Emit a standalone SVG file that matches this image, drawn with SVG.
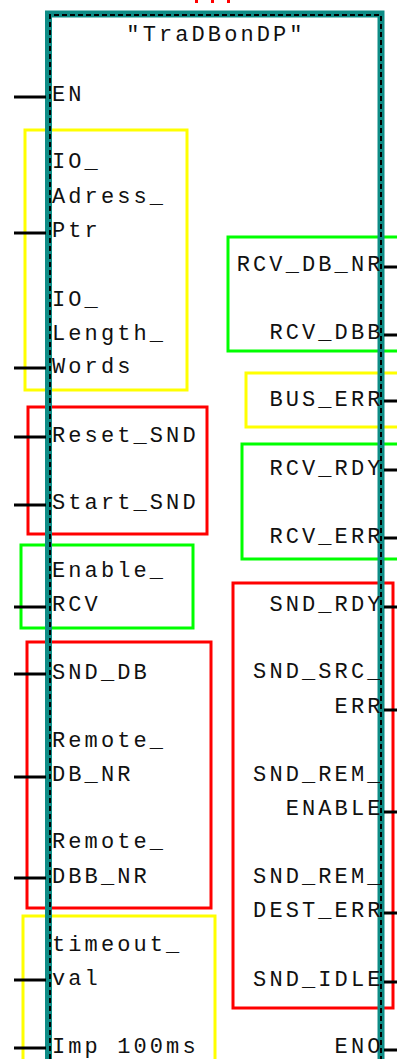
<svg xmlns="http://www.w3.org/2000/svg" width="397" height="1059" viewBox="0 0 397 1059">
  <defs>
    <style>
      .lbl { font-family: "Liberation Mono", "Courier New", monospace; font-size: 22px; letter-spacing: 3.1px; fill: #111; }
      .in { text-anchor: start; }
      .out { text-anchor: end; }
      .pin { stroke: #000; stroke-width: 3; fill: none; }
      .frame { stroke: #0e8c86; stroke-width: 7; fill: none; }
      .dash { stroke: #000; stroke-width: 2; stroke-dasharray: 5 3; fill: none; }
      .hl { fill: none; stroke-width: 3; }
      .yel { stroke: #ffff00; }
      .grn { stroke: #00ff00; }
      .red { stroke: #ff0000; }
    </style>
  </defs>

  <rect width="397" height="1059" fill="#ffffff"/>

  <!-- fragment of a red dashed edge at the very top -->
  <line x1="195" y1="1.5" x2="234" y2="1.5" stroke="#ff0000" stroke-width="3" stroke-dasharray="3 13"/>

  <!-- coloured grouping boxes -->
  <g id="groups">
    <rect class="hl yel" x="25" y="130" width="162" height="260"/>
    <rect class="hl red" x="28" y="407" width="179" height="127"/>
    <rect class="hl grn" x="21" y="545" width="172" height="83"/>
    <rect class="hl red" x="27" y="642" width="184" height="266"/>
    <rect class="hl yel" x="23" y="916" width="192" height="160"/>
    <rect class="hl grn" x="228" y="237" width="180" height="114"/>
    <rect class="hl yel" x="246" y="373" width="160" height="54"/>
    <rect class="hl grn" x="242" y="444" width="166" height="115"/>
    <rect class="hl red" x="233" y="583" width="160" height="425"/>
  </g>

  <!-- function block frame -->
  <g id="block">
    <rect class="frame" x="48.5" y="14" width="332.5" height="1060"/>
    <path class="dash" d="M50,1059 V15 H381 V1059"/>
    <text class="lbl" x="216" y="41" text-anchor="middle">"TraDBonDP"</text>
  </g>

  <!-- pin connectors -->
  <g id="connectors">
    <line class="pin" x1="14" y1="97" x2="46" y2="97"/>
    <line class="pin" x1="14" y1="233" x2="46" y2="233"/>
    <line class="pin" x1="14" y1="368" x2="46" y2="368"/>
    <line class="pin" x1="14" y1="437" x2="46" y2="437"/>
    <line class="pin" x1="14" y1="505" x2="46" y2="505"/>
    <line class="pin" x1="14" y1="607" x2="46" y2="607"/>
    <line class="pin" x1="14" y1="674" x2="46" y2="674"/>
    <line class="pin" x1="14" y1="777" x2="46" y2="777"/>
    <line class="pin" x1="14" y1="878" x2="46" y2="878"/>
    <line class="pin" x1="14" y1="980" x2="46" y2="980"/>
    <line class="pin" x1="14" y1="1048" x2="46" y2="1048"/>

    <line class="pin" x1="384" y1="267" x2="397" y2="267"/>
    <line class="pin" x1="384" y1="335" x2="397" y2="335"/>
    <line class="pin" x1="384" y1="401" x2="397" y2="401"/>
    <line class="pin" x1="384" y1="470" x2="397" y2="470"/>
    <line class="pin" x1="384" y1="538" x2="397" y2="538"/>
    <line class="pin" x1="384" y1="607" x2="397" y2="607"/>
    <line class="pin" x1="384" y1="710" x2="397" y2="710"/>
    <line class="pin" x1="384" y1="812" x2="397" y2="812"/>
    <line class="pin" x1="384" y1="913" x2="397" y2="913"/>
    <line class="pin" x1="384" y1="982" x2="397" y2="982"/>
    <line class="pin" x1="384" y1="1050" x2="397" y2="1050"/>
  </g>

  <!-- input parameters -->
  <g id="inputs">
    <g id="in-EN"><text class="lbl in" x="52" y="101">EN</text></g>
    <g id="in-IO_Adress_Ptr">
      <text class="lbl in" x="52" y="168">IO_</text>
      <text class="lbl in" x="52" y="203">Adress_</text>
      <text class="lbl in" x="52" y="237">Ptr</text>
    </g>
    <g id="in-IO_Length_Words">
      <text class="lbl in" x="52" y="306">IO_</text>
      <text class="lbl in" x="52" y="340">Length_</text>
      <text class="lbl in" x="52" y="373">Words</text>
    </g>
    <g id="in-Reset_SND"><text class="lbl in" x="52" y="442">Reset_SND</text></g>
    <g id="in-Start_SND"><text class="lbl in" x="52" y="509">Start_SND</text></g>
    <g id="in-Enable_RCV">
      <text class="lbl in" x="52" y="577">Enable_</text>
      <text class="lbl in" x="52" y="611">RCV</text>
    </g>
    <g id="in-SND_DB"><text class="lbl in" x="52" y="679">SND_DB</text></g>
    <g id="in-Remote_DB_NR">
      <text class="lbl in" x="52" y="747">Remote_</text>
      <text class="lbl in" x="52" y="781">DB_NR</text>
    </g>
    <g id="in-Remote_DBB_NR">
      <text class="lbl in" x="52" y="848">Remote_</text>
      <text class="lbl in" x="52" y="883">DBB_NR</text>
    </g>
    <g id="in-timeout_val">
      <text class="lbl in" x="52" y="951">timeout_</text>
      <text class="lbl in" x="52" y="985">val</text>
    </g>
    <g id="in-Imp_100ms"><text class="lbl in" x="52" y="1053">Imp 100ms</text></g>
  </g>

  <!-- output parameters -->
  <g id="outputs">
    <g id="out-RCV_DB_NR"><text class="lbl out" x="383.5" y="271">RCV_DB_NR</text></g>
    <g id="out-RCV_DBB"><text class="lbl out" x="383.5" y="339">RCV_DBB</text></g>
    <g id="out-BUS_ERR"><text class="lbl out" x="383.5" y="406">BUS_ERR</text></g>
    <g id="out-RCV_RDY"><text class="lbl out" x="383.5" y="475">RCV_RDY</text></g>
    <g id="out-RCV_ERR"><text class="lbl out" x="383.5" y="543">RCV_ERR</text></g>
    <g id="out-SND_RDY"><text class="lbl out" x="383.5" y="611">SND_RDY</text></g>
    <g id="out-SND_SRC_ERR">
      <text class="lbl out" x="383.5" y="678">SND_SRC_</text>
      <text class="lbl out" x="383.5" y="713">ERR</text>
    </g>
    <g id="out-SND_REM_ENABLE">
      <text class="lbl out" x="383.5" y="781">SND_REM_</text>
      <text class="lbl out" x="383.5" y="815">ENABLE</text>
    </g>
    <g id="out-SND_REM_DEST_ERR">
      <text class="lbl out" x="383.5" y="883">SND_REM_</text>
      <text class="lbl out" x="383.5" y="917">DEST_ERR</text>
    </g>
    <g id="out-SND_IDLE"><text class="lbl out" x="383.5" y="986">SND_IDLE</text></g>
    <g id="out-ENO"><text class="lbl out" x="383.5" y="1053">ENO</text></g>
  </g>
</svg>
